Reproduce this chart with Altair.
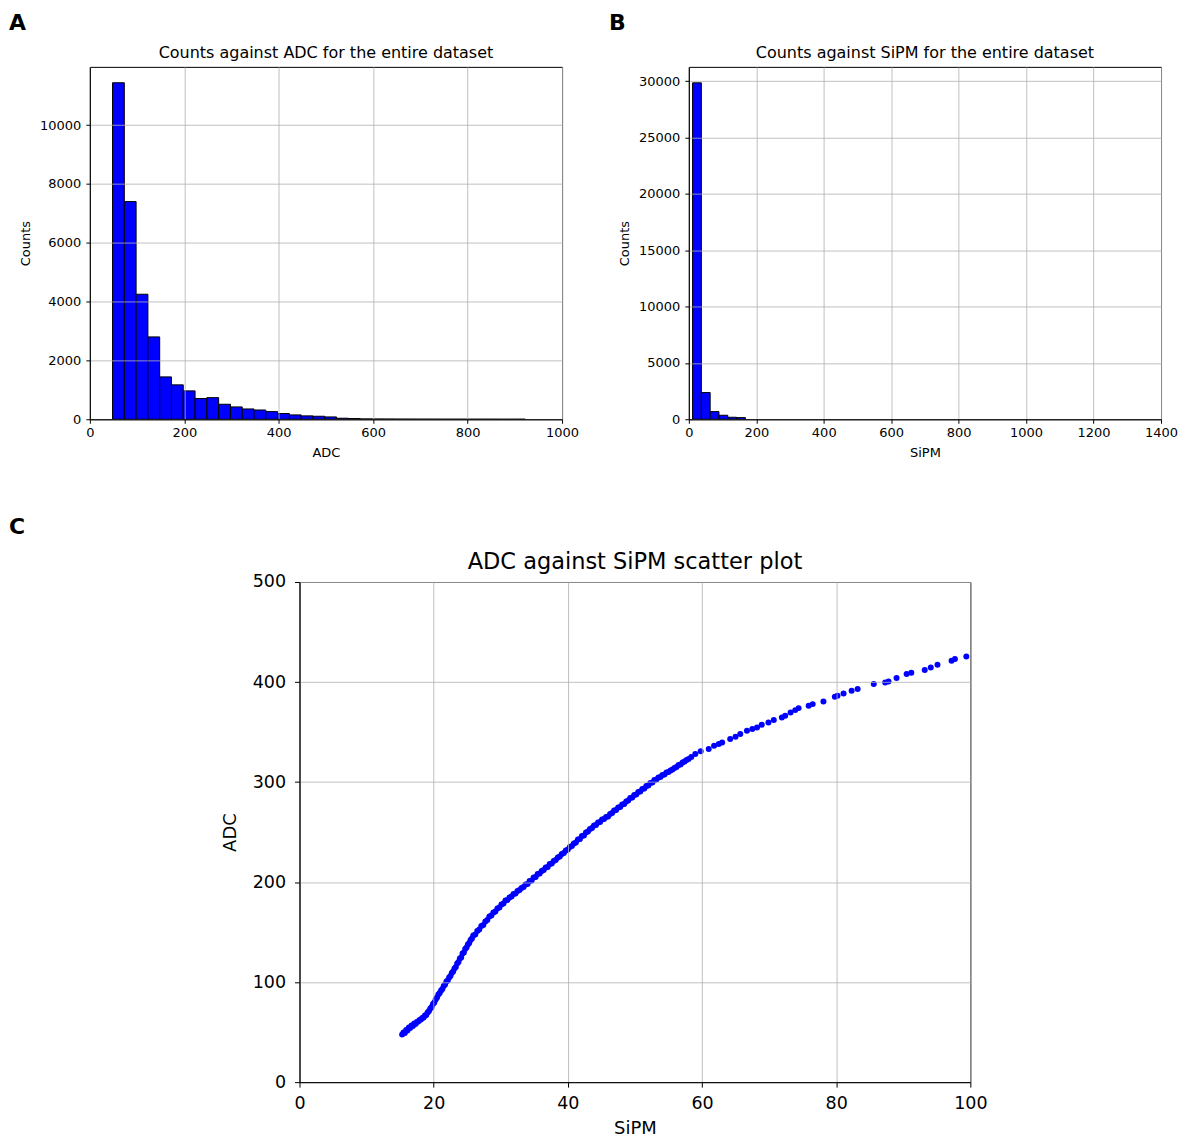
import altair as alt
import numpy as np
import pandas as pd

FONT = "DejaVu Sans"
BLUE = "#0000ff"
GRID = "#b0b0b0"

# ---- Panel A: histogram of ADC (counts per bin) ----
adc_counts = [11440, 7400, 4250, 2800, 1440, 1170, 965, 705, 735, 510, 420, 350,
              315, 260, 195, 148, 115, 102, 80, 35, 24, 12, 9, 7, 5, 4, 3, 2, 2,
              1, 1, 1, 1, 0, 1]
adc_range = [48.0, 922.0]
adc_ticks = [0, 200, 400, 600, 800, 1000]
adc_count_ticks = [0, 2000, 4000, 6000, 8000, 10000]

# ---- Panel B: histogram of SiPM ----
sipm_counts = [29850, 2370, 680, 355, 178, 148]
sipm_range = [11.0, 167.7]
sipm_ticks = [0, 200, 400, 600, 800, 1000, 1200, 1400]
sipm_count_ticks = [0, 5000, 10000, 15000, 20000, 25000, 30000]

# ---- Panel C: scatter ADC vs SiPM ----
scatter_sipm = [
    15.3, 15.5, 15.7, 15.9, 16.1, 16.3, 16.5, 16.7, 16.9, 17.1, 17.3, 17.5, 17.7, 17.9,
    18.1, 18.3, 18.5, 18.7, 18.9, 19.1, 19.3, 19.5, 19.7, 19.9, 20.1, 20.3, 20.5, 20.7,
    20.9, 21.1, 21.3, 21.5, 21.7, 21.9, 22.1, 22.3, 22.5, 22.7, 22.9, 23.1, 23.3, 23.5,
    23.7, 23.9, 24.1, 24.3, 24.5, 24.7, 24.9, 25.1, 25.3, 25.5, 25.7, 25.9, 26.2, 26.5,
    26.8, 27.1, 27.4, 27.7, 28.0, 28.3, 28.6, 28.9, 29.2, 29.5, 29.8, 30.1, 30.4, 30.7,
    31.0, 31.3, 31.6, 31.9, 32.2, 32.5, 32.8, 33.1, 33.4, 33.7, 34.0, 34.3, 34.6, 34.9,
    35.2, 35.5, 35.8, 36.1, 36.4, 36.7, 37.0, 37.3, 37.6, 37.9, 38.2, 38.5, 38.8, 39.1,
    39.4, 39.7, 40.0, 40.3, 40.6, 40.9, 41.2, 41.5, 41.8, 42.1, 42.4, 42.7, 43.0, 43.3,
    43.6, 43.9, 44.2, 44.5, 44.8, 45.1, 45.4, 45.7, 46.0, 46.3, 46.6, 46.9, 47.2, 47.5,
    47.8, 48.1, 48.4, 48.7, 49.0, 49.3, 49.6, 49.9, 50.2, 50.5, 50.8, 51.1, 51.4, 51.7,
    52.0, 52.3, 52.6, 52.9, 53.2, 53.5, 53.8, 54.1, 54.4, 54.7, 55.0, 55.3, 55.6, 55.9,
    56.2, 56.5, 56.8, 57.1, 57.4, 57.7, 58.0, 58.4,
    59.0, 59.8, 61.0, 61.8, 62.5, 63.0, 64.2, 65.0, 65.7, 66.7, 67.5, 68.2, 68.9, 69.9,
    70.7, 71.9, 72.4, 73.2, 73.9, 74.4, 75.9, 76.5, 78.1, 79.8, 80.2, 81.1, 82.3, 83.2,
    85.6, 87.3, 87.8, 89.0, 90.5, 91.2, 93.2, 94.1, 95.1, 97.2, 97.7, 99.4,
]
scatter_adc = [
    47.5, 49.5, 49.0, 52.0, 51.5, 54.5, 54.0, 56.5, 56.0, 58.5, 58.0, 60.0, 60.5, 62.0,
    62.5, 64.0, 64.5, 66.5, 67.0, 69.5, 71.0, 73.5, 75.0, 78.0, 79.5, 82.5, 84.5, 87.5,
    89.0, 91.5, 93.0, 96.0, 97.5, 100.5, 101.5, 104.5, 106.0, 109.0, 110.5, 113.5, 115.0, 118.5,
    120.0, 123.5, 124.5, 128.5, 129.5, 133.0, 134.5, 137.5, 139.0, 142.0, 143.5, 146.5, 147.5, 151.0,
    152.5, 156.0, 157.0, 160.5, 162.0, 165.5, 166.5, 169.5, 170.5, 173.5, 174.5, 177.5, 178.5, 181.5,
    182.0, 184.5, 185.5, 188.0, 188.5, 191.0, 192.0, 194.0, 195.0, 197.5, 198.0, 201.0, 201.5, 204.5,
    205.0, 208.0, 208.5, 211.0, 212.0, 214.5, 215.0, 218.0, 218.5, 221.0, 222.0, 224.5, 225.5, 228.0,
    229.0, 231.5, 232.5, 235.0, 236.0, 238.5, 239.5, 242.5, 243.0, 246.0, 246.5, 249.5, 250.5, 253.0,
    254.0, 256.5, 257.0, 259.5, 260.0, 262.5, 263.0, 265.0, 265.5, 268.0, 269.0, 271.5, 272.0, 274.5,
    275.0, 277.5, 278.0, 280.5, 281.5, 284.0, 284.5, 287.0, 287.5, 290.0, 290.5, 293.0, 293.5, 296.0,
    296.5, 299.0, 299.5, 302.0, 302.5, 304.5, 305.0, 307.0, 307.5, 309.5, 310.0, 311.5, 312.5, 314.0,
    315.0, 317.0, 317.5, 319.5, 320.5, 322.0, 323.0, 325.0,
    328.0, 330.7, 333.0, 336.3, 338.0, 339.6, 343.0, 345.3, 348.0, 351.3, 353.0, 354.6, 357.3, 359.6,
    362.0, 364.6, 366.3, 369.6, 371.9, 373.9, 376.2, 377.9, 380.5, 385.2, 386.2, 388.5, 391.2, 392.9,
    397.9, 399.5, 400.5, 403.9, 407.9, 409.2, 411.9, 414.6, 417.2, 421.2, 422.9, 425.5,
]
scatter_x_ticks = [0, 20, 40, 60, 80, 100]
scatter_y_ticks = [0, 100, 200, 300, 400, 500]


def make_axis(values, title, fs, tfs, tick, pad, tx, ty, angle=0):
    return alt.Axis(
        values=values, format="d", title=title, grid=True, gridColor=GRID, gridWidth=0.8,
        domainColor="black", domainWidth=1, tickColor="black", tickSize=tick, tickWidth=1,
        labelFont=FONT, labelFontSize=fs, labelColor="black", labelPadding=pad,
        labelFlush=False, labelOverlap=False,
        titleFont=FONT, titleFontSize=tfs, titleFontWeight="normal", titleColor="black",
        titleX=tx, titleY=ty, titleAlign="center", titleBaseline="middle", titleAngle=angle,
        zindex=1,
    )


def text_mark(text, x, y, size, weight, align="left"):
    return alt.Chart(pd.DataFrame({"t": [text]})).mark_text(
        text=text, font=FONT, fontSize=size, fontWeight=weight, color="black",
        align=align, baseline="alphabetic",
    ).encode(x=alt.value(x), y=alt.value(y))


W1, H1 = 473, 353


def hist_panel(counts, rng, letter, letter_x, title, xlabel, xticks, xmax, yticks, ymax):
    edges = np.linspace(rng[0], rng[1], len(counts) + 1)
    df = pd.DataFrame({"start": edges[:-1], "end": edges[1:], "count": counts,
                       "base": [0] * len(counts)})
    bars = alt.Chart(df).mark_bar(color=BLUE, stroke="black", strokeWidth=1).encode(
        x=alt.X("start:Q", scale=alt.Scale(domain=[0, xmax], nice=False, zero=False),
                axis=make_axis(xticks, xlabel, 13, 13, 4, 3, W1 / 2, 33)),
        x2="end:Q",
        y=alt.Y("count:Q", scale=alt.Scale(domain=[0, ymax], nice=False),
                axis=make_axis(yticks, "Counts", 13, 13, 4, 5, -64, H1 / 2, 270)),
        y2="base:Q",
    )
    return alt.layer(
        bars,
        text_mark(letter, letter_x, -36.7, 22, "bold"),
        text_mark(title, W1 / 2, -9, 16, "normal", "center"),
    ).properties(width=W1, height=H1)


panel_a = hist_panel(adc_counts, adc_range, "A", -81, "Counts against ADC for the entire dataset",
                     "ADC", adc_ticks, 1000, adc_count_ticks, 11980)
panel_b = hist_panel(sipm_counts, sipm_range, "B", -80, "Counts against SiPM for the entire dataset",
                     "SiPM", sipm_ticks, 1400, sipm_count_ticks, 31270)

W2, H2 = 672, 501
sdf = pd.DataFrame({"sipm": scatter_sipm, "adc": scatter_adc})
scat = alt.Chart(sdf).mark_circle(size=36, color=BLUE, opacity=1).encode(
    x=alt.X("sipm:Q", scale=alt.Scale(domain=[0, 100], nice=False),
            axis=make_axis(scatter_x_ticks, "SiPM", 17.5, 18, 5, 7, W2 / 2, 46)),
    y=alt.Y("adc:Q", scale=alt.Scale(domain=[0, 500], nice=False),
            axis=make_axis(scatter_y_ticks, "ADC", 17.5, 18, 5, 9, -69, H2 / 2, 270)),
)
panel_c = alt.layer(
    scat,
    text_mark("ADC against SiPM scatter plot", W2 / 2, -13.5, 22.5, "normal", "center"),
).properties(width=W2, height=H2)

# left column of row 2 holds only the panel letter "C"
spacer_c = text_mark("C", -81, -48, 22, "bold").properties(
    width=130, height=H2, view=alt.ViewBackground(stroke="transparent")
)

row1 = alt.hconcat(panel_a, panel_b, spacing=28)
row2 = alt.hconcat(spacer_c, panel_c, spacing=0)
chart = alt.vconcat(row1, row2, spacing=55).properties(
    padding={"left": 0, "top": 2, "right": 0, "bottom": 0}
).configure_view(stroke="black", strokeWidth=1)

chart.save("out.html", embed_options={"renderer": "svg", "actions": False})
